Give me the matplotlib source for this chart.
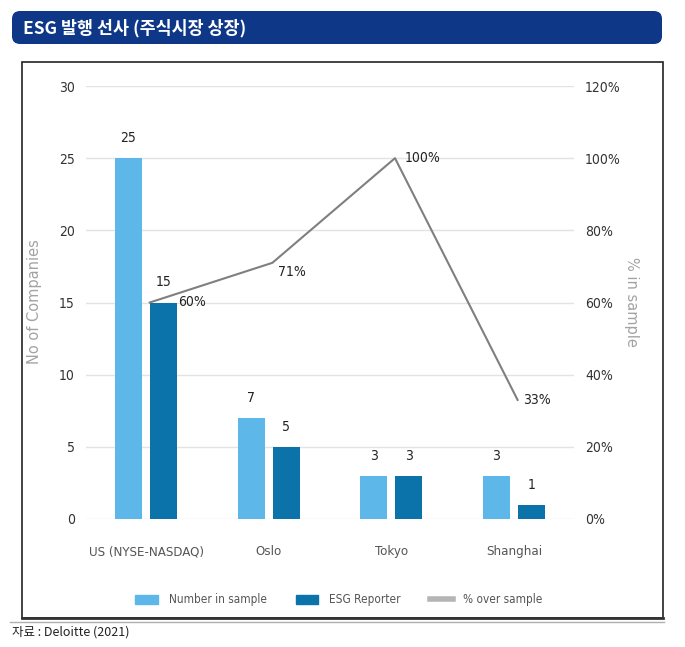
import matplotlib
matplotlib.use('Agg')
import matplotlib.pyplot as plt
from matplotlib.patches import FancyBboxPatch, Rectangle, Patch
from matplotlib.lines import Line2D
from matplotlib.font_manager import FontProperties
import numpy as np

categories = ['US (NYSE-NASDAQ)', 'Oslo', 'Tokyo', 'Shanghai']
number_in_sample = [25, 7, 3, 3]
esg_reporter = [15, 5, 3, 1]
pct_over_sample = [60, 71, 100, 33]
pct_labels = ['60%', '71%', '100%', '33%']
left_ticks = [0, 5, 10, 15, 20, 25, 30]
right_ticks = [0, 20, 40, 60, 80, 100, 120]
right_tick_labels = ['0%', '20%', '40%', '60%', '80%', '100%', '120%']

W, H = 685, 647
LIGHT = '#5DB7E9'
DARK = '#0B73A9'
LINE = '#7f7f7f'

def cond(size):
    return FontProperties(family='DejaVu Sans', stretch='condensed', size=size)

fig = plt.figure(figsize=(W / 100, H / 100), dpi=100)
fig.patch.set_facecolor('white')

def fx(px):
    return px / W

def fy(py):
    return 1 - py / H

# Title bar
fig.patches.append(FancyBboxPatch((fx(12), fy(44)), fx(650), 33 / H,
                                  boxstyle='round,pad=0,rounding_size=0.012',
                                  transform=fig.transFigure, fc='#0E3787', ec='none'))
fig.text(fx(23), fy(28), 'ESG 발행 선사 (주식시장 상장)', color='white', fontsize=12.5,
         fontweight='bold', va='center', ha='left', family=['Noto Sans CJK KR', 'DejaVu Sans'])

# Chart box
fig.patches.append(Rectangle((fx(22), fy(618)), fx(663 - 22), (618 - 62) / H, fill=False,
                             ec='#222222', lw=1.2, transform=fig.transFigure))
fig.lines.append(Line2D([fx(22), fx(663)], [fy(618), fy(618)], color='#333333', lw=2,
                        transform=fig.transFigure))
fig.lines.append(Line2D([fx(10), fx(664)], [fy(622), fy(622)], color='#b0b0b0', lw=1,
                        transform=fig.transFigure))

ax = fig.add_axes([fx(86), fy(519), (574 - 86) / W, (519 - 86) / H])
x = np.arange(len(categories))
bw = 0.221
off = 0.143
b1 = ax.bar(x - off, number_in_sample, bw, color=LIGHT, zorder=2)
b2 = ax.bar(x + off, esg_reporter, bw, color=DARK, zorder=2)
ax.set_xlim(-0.49, 3.49)
ax.set_ylim(0, 30)
ax.set_yticks(left_ticks)
ax.set_xticks(x)
ax.set_xticklabels(categories)
ax.yaxis.grid(True, color='#e3e3e3', lw=1)
ax.set_axisbelow(True)
for s in ax.spines.values():
    s.set_visible(False)
ax.tick_params(axis='y', length=0, pad=8, labelcolor='#333333')
ax.tick_params(axis='x', length=0, pad=19, labelcolor='#555555')
for lbl in ax.get_yticklabels():
    lbl.set_fontproperties(cond(10))
for lbl in ax.get_xticklabels():
    lbl.set_fontproperties(cond(9.5))

for bars, vals in ((b1, number_in_sample), (b2, esg_reporter)):
    for rect, v in zip(bars, vals):
        ax.annotate(str(v), (rect.get_x() + rect.get_width() / 2, v), xytext=(0, 13),
                    textcoords='offset pixels', ha='center', va='bottom',
                    color='#222222', fontproperties=cond(10))

ax2 = ax.twinx()
ax2.set_ylim(0, 120)
ax2.set_yticks(right_ticks)
ax2.set_yticklabels(right_tick_labels)
for s in ax2.spines.values():
    s.set_visible(False)
ax2.tick_params(axis='y', length=0, pad=8, labelcolor='#333333')
for lbl in ax2.get_yticklabels():
    lbl.set_fontproperties(cond(10))
xl = x + 0.03
ax2.plot(xl, pct_over_sample, color=LINE, lw=1.5, zorder=3)
offsets = [(28, 0), (6, -9), (10, 0), (5, 0)]
for xi, v, t, o in zip(xl, pct_over_sample, pct_labels, offsets):
    ax2.annotate(t, (xi, v), xytext=o, textcoords='offset pixels', ha='left', va='center',
                 color='#222222', fontproperties=cond(10))

fig.text(fx(35), fy(302), 'No of Companies', rotation=90, ha='center', va='center',
         fontsize=10.5, color='#a3a3a3')
fig.text(fx(632), fy(302), '% in sample', rotation=-90, ha='center', va='center',
         fontsize=10.5, color='#a3a3a3')

handles = [Patch(color=LIGHT), Patch(color=DARK), Line2D([], [], color='#b5b5b5', lw=4)]
leg = fig.legend(handles, ['Number in sample', 'ESG Reporter', '% over sample'],
                 loc='center', bbox_to_anchor=(fx(339), fy(600)), ncol=3, frameon=False,
                 handlelength=1.9, handleheight=0.8, handletextpad=0.9,
                 columnspacing=2.5, prop=cond(8.5))
for t in leg.get_texts():
    t.set_color('#555555')

fig.text(fx(12), fy(632), '자료 : Deloitte (2021)', fontsize=9, va='center', ha='left',
         color='#222222', family=['Noto Sans CJK KR', 'DejaVu Sans'])

fig.savefig('out.png', dpi=100, facecolor='white')
